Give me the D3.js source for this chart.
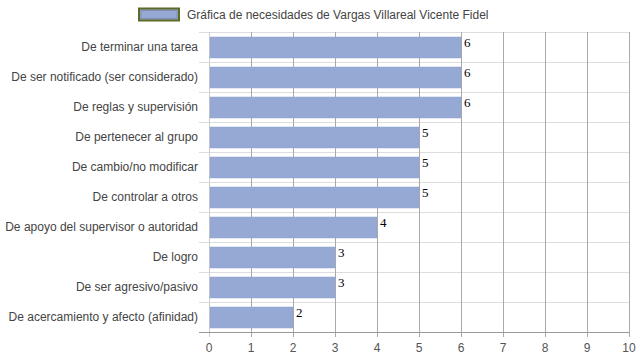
<!DOCTYPE html>
<html><head><meta charset="utf-8">
<script src="https://cdn.jsdelivr.net/npm/d3@7/dist/d3.min.js"></script>
<style>body{margin:0;background:#fff;}svg{display:block;}</style>
</head><body>
<script>
const categories = ["De terminar una tarea","De ser notificado (ser considerado)","De reglas y supervisión","De pertenecer al grupo","De cambio/no modificar","De controlar a otros","De apoyo del supervisor o autoridad","De logro","De ser agresivo/pasivo","De acercamiento y afecto (afinidad)"];
const values = [6,6,6,5,5,5,4,3,3,2];
const xTicks = [0,1,2,3,4,5,6,7,8,9,10];
const seriesName = "Gráfica de necesidades de Vargas Villareal Vicente Fidel";

const W=639,H=360;
const svg=d3.select("body").append("svg").attr("width",W).attr("height",H);
const x=d3.scaleLinear().domain([0,10]).range([209,629]);
const yb=d3.scaleBand().domain(categories).range([32,332]);

// horizontal gridlines
svg.append("g").selectAll("line").data(categories.slice(1)).join("line")
 .attr("x1",199).attr("x2",629).attr("y1",d=>yb(d)+0.5).attr("y2",d=>yb(d)+0.5)
 .attr("stroke","#ddd");
svg.append("line").attr("x1",199).attr("x2",629).attr("y1",32.5).attr("y2",32.5).attr("stroke","#ddd");
// vertical gridlines
svg.append("g").selectAll("line").data(xTicks.slice(1)).join("line")
 .attr("x1",d=>Math.round(x(d))+0.5).attr("x2",d=>Math.round(x(d))+0.5).attr("y1",32).attr("y2",337)
 .attr("stroke","#aaa");
// left axis line
svg.append("line").attr("x1",209.5).attr("x2",209.5).attr("y1",32).attr("y2",337).attr("stroke","#ccc");
// bottom axis
svg.append("line").attr("x1",199).attr("x2",629).attr("y1",332.5).attr("y2",332.5).attr("stroke","#999");

// bars
svg.append("g").selectAll("rect").data(values).join("rect")
 .attr("x",x(0)+1).attr("y",(d,i)=>yb(categories[i])+5)
 .attr("width",d=>x(d)-x(0)-1).attr("height",21)
 .attr("fill","#95a9d4").attr("stroke","#8ea2cf").attr("stroke-width",0.5);

// value labels
svg.append("g").selectAll("text").data(values).join("text")
 .attr("x",d=>x(d)+3).attr("y",(d,i)=>yb(categories[i])+15)
 .attr("font-family","'Liberation Serif','Times New Roman',serif").attr("font-size",13).attr("fill","#000")
 .text(d=>d);

// category labels
svg.append("g").selectAll("text").data(categories).join("text")
 .attr("x",198).attr("y",d=>yb(d)+yb.bandwidth()/2+4)
 .attr("text-anchor","end").attr("font-family","'Liberation Sans',Arial,sans-serif").attr("font-size",12).attr("fill","#444")
 .text(d=>d);

// x tick labels
svg.append("g").selectAll("text").data(xTicks).join("text")
 .attr("x",d=>x(d)).attr("y",352).attr("text-anchor","middle")
 .attr("font-family","'Liberation Sans',Arial,sans-serif").attr("font-size",12).attr("fill","#555")
 .text(d=>d);

// legend
svg.append("rect").attr("x",139).attr("y",8.5).attr("width",40).attr("height",12)
 .attr("fill","#95a9d4").attr("stroke","#5c6a26").attr("stroke-width",2);
svg.append("rect").attr("x",141).attr("y",10.5).attr("width",36).attr("height",8)
 .attr("fill","none").attr("stroke","#7f8fae").attr("stroke-width",1);
svg.append("text").attr("x",187).attr("y",19).attr("font-family","'Liberation Sans',Arial,sans-serif")
 .attr("font-size",12).attr("fill","#444").text(seriesName);
</script>
</body></html>
